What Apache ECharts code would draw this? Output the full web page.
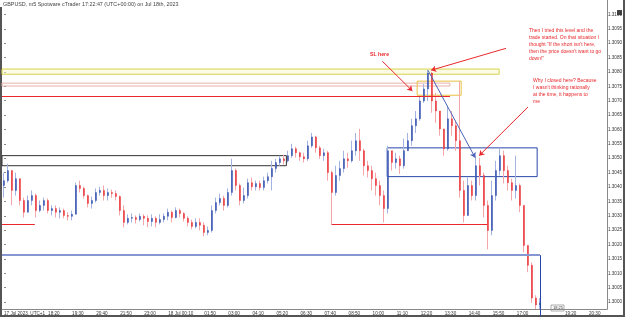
<!DOCTYPE html>
<html>
<head>
<meta charset="utf-8">
<script src="https://cdn.jsdelivr.net/npm/echarts@6/dist/echarts.min.js"></script>
<style>
  html, body { margin: 0; padding: 0; background: #fff; }
  #chart { width: 625px; height: 317px; }
</style>
</head>
<body>
<div id="chart"></div>
<script>
// GBPUSD m5, 17-18 Jul 2023
const closes = [
  1.30422,1.30457,1.30388,1.30429,1.30353,1.30312,1.30353,1.30370,1.30318,1.30336,
  1.30353,1.30318,1.30325,1.30312,1.30318,1.30301,1.30298,1.30305,1.30405,1.30395,
  1.30370,1.30343,1.30353,1.30381,1.30388,1.30370,1.30381,1.30377,1.30367,1.30318,
  1.30277,1.30291,1.30294,1.30287,1.30298,1.30291,1.30280,1.30291,1.30277,1.30287,
  1.30298,1.30312,1.30294,1.30318,1.30308,1.30291,1.30277,1.30263,1.30277,1.30267,
  1.30242,1.30249,1.30318,1.30346,1.30360,1.30336,1.30381,1.30457,1.30405,1.30353,
  1.30370,1.30415,1.30401,1.30412,1.30398,1.30422,1.30436,1.30464,1.30485,1.30498,
  1.30491,1.30509,1.30533,1.30519,1.30505,1.30498,1.30543,1.30574,1.30536,1.30509,
  1.30519,1.30450,1.30381,1.30440,1.30464,1.30498,1.30491,1.30526,1.30561,1.30526,
  1.30474,1.30457,1.30429,1.30405,1.30370,1.30325,1.30526,1.30485,1.30498,1.30474,
  1.30526,1.30561,1.30613,1.30637,1.30699,1.30741,1.30796,1.30699,1.30664,1.30602,
  1.30533,1.30637,1.30613,1.30561,1.30388,1.30301,1.30405,1.30370,1.30474,1.30440,
  1.30336,1.30249,1.30370,1.30457,1.30509,1.30457,1.30415,1.30388,1.30405,1.30336,
  1.30197,1.30128,1.30014,1.29990,1.29997
];
const highs = [
  1.30450,1.30481,1.30450,1.30450,1.30429,1.30363,1.30370,1.30388,1.30377,1.30353,
  1.30363,1.30360,1.30336,1.30336,1.30329,1.30325,1.30312,1.30318,1.30415,1.30422,
  1.30401,1.30374,1.30367,1.30395,1.30401,1.30405,1.30395,1.30391,1.30388,1.30370,
  1.30336,1.30305,1.30308,1.30301,1.30308,1.30305,1.30301,1.30305,1.30298,1.30305,
  1.30308,1.30325,1.30318,1.30329,1.30325,1.30312,1.30298,1.30287,1.30291,1.30291,
  1.30277,1.30263,1.30336,1.30363,1.30377,1.30370,1.30395,1.30498,1.30464,1.30412,
  1.30398,1.30429,1.30433,1.30422,1.30422,1.30436,1.30450,1.30491,1.30498,1.30509,
  1.30512,1.30526,1.30550,1.30540,1.30523,1.30519,1.30561,1.30588,1.30578,1.30543,
  1.30533,1.30526,1.30457,1.30474,1.30491,1.30526,1.30519,1.30561,1.30588,1.30602,
  1.30533,1.30491,1.30474,1.30450,1.30422,1.30388,1.30543,1.30519,1.30519,1.30509,
  1.30568,1.30588,1.30637,1.30664,1.30716,1.30758,1.30806,1.30800,1.30727,1.30647,
  1.30602,1.30682,1.30664,1.30630,1.30768,1.30422,1.30433,1.30422,1.30509,1.30502,
  1.30450,1.30353,1.30422,1.30491,1.30536,1.30526,1.30474,1.30429,1.30509,1.30412,
  1.30336,1.30197,1.30138,1.30024,1.30014
];
const lows = [
  1.30363,1.30415,1.30336,1.30370,1.30336,1.30294,1.30312,1.30336,1.30294,1.30312,
  1.30318,1.30308,1.30301,1.30294,1.30291,1.30291,1.30284,1.30284,1.30305,1.30381,
  1.30360,1.30329,1.30325,1.30346,1.30370,1.30353,1.30353,1.30363,1.30353,1.30301,
  1.30260,1.30270,1.30277,1.30273,1.30280,1.30267,1.30260,1.30263,1.30260,1.30270,
  1.30277,1.30284,1.30277,1.30291,1.30294,1.30280,1.30263,1.30253,1.30256,1.30249,
  1.30228,1.30232,1.30242,1.30308,1.30336,1.30318,1.30329,1.30370,1.30388,1.30336,
  1.30343,1.30360,1.30388,1.30388,1.30388,1.30388,1.30412,1.30388,1.30450,1.30474,
  1.30478,1.30485,1.30502,1.30502,1.30491,1.30485,1.30491,1.30536,1.30519,1.30498,
  1.30491,1.30422,1.30270,1.30370,1.30422,1.30450,1.30467,1.30485,1.30509,1.30491,
  1.30440,1.30433,1.30388,1.30370,1.30336,1.30277,1.30308,1.30457,1.30464,1.30446,
  1.30464,1.30526,1.30543,1.30588,1.30630,1.30692,1.30699,1.30658,1.30623,1.30578,
  1.30509,1.30526,1.30578,1.30526,1.30363,1.30277,1.30336,1.30353,1.30353,1.30405,
  1.30294,1.30183,1.30232,1.30353,1.30440,1.30412,1.30388,1.30353,1.30360,1.30312,
  1.30173,1.30104,1.29997,1.29976,1.29976
];
const firstOpen = 1.30405;
const slotCount = 151; // bars plus empty space on the right

// time axis labels: [slot, text]
const timeTicks = [
  [0, '17 Jul 2023, UTC+1'], [11, '18:20'], [17, '19:30'], [23, '20:40'], [29, '21:50'],
  [35, '23:00'], [41, '18 Jul 00:10'], [50, '01:50'], [56, '03:00'], [62, '04:10'],
  [68, '05:20'], [74, '06:30'], [80, '07:40'], [86, '08:50'], [92, '10:00'],
  [98, '11:10'], [104, '12:20'], [110, '13:30'], [116, '14:40'], [122, '15:50'],
  [128, '17:00'], [140, '19:20'], [146, '20:30']
];

const title = 'GBPUSD, m5 Spotware cTrader 17:22:47 (UTC+00:00) on Jul 18th, 2023';
const noteTop = ['Then I tried this level and the', 'trade started. On that situation I',
  'thought "If the short isn\'t here,', 'then the price doesn\'t want to go', 'down!"'];
const noteClose = ['Why I closed here? Because', 'I wasn\'t thinking rationally',
  'at the time, it happens to', 'me'];

const opens = closes.map((c, i) => (i === 0 ? firstOpen : closes[i - 1]));
const wickData = closes.map((c, i) => [i, opens[i], c,
  Math.min(lows[i], opens[i], c), Math.max(highs[i], opens[i], c)]);
const bodyData = closes.map((c, i) => [i, opens[i], c, Math.min(opens[i], c), Math.max(opens[i], c)]);

const timeCats = new Array(slotCount).fill('');
timeTicks.forEach(([i, t]) => { timeCats[i] = t; });

const RED = '#e8282d';
const BLUE = '#2846a8';
const FONT = 'Liberation Sans';

const arrowEnd = (a, b, color) => [
  { coord: a, symbol: 'none', lineStyle: { color: color, width: 1, type: 'solid' } },
  { coord: b, symbol: 'arrow', symbolSize: 5 }
];
const plain = (a, b, color, width) => [
  { coord: a, symbol: 'none', lineStyle: { color: color, width: width || 1, type: 'solid' } },
  { coord: b, symbol: 'none' }
];

const textLines = (lines, x, y, step, color) => lines.map((t, k) => ({
  type: 'text', left: x, top: y + k * step,
  style: { text: t, fill: color, font: '5px ' + FONT }
}));

const chart = echarts.init(document.getElementById('chart'));
chart.setOption({
  animation: false,
  backgroundColor: '#fff',
  grid: [
    { left: 2, right: 18, top: -1.45, height: 317.9 },
    { left: 2, right: 18, top: 0, height: 309 }
  ],
  xAxis: [
    { type: 'value', gridIndex: 0, min: -0.5, max: slotCount - 0.5, show: false },
    {
      type: 'category', gridIndex: 1, data: timeCats, boundaryGap: true,
      axisLine: { lineStyle: { color: '#888', width: 1 } },
      axisTick: { interval: (i, v) => v !== '', length: 2, lineStyle: { color: '#888' } },
      axisLabel: {
        interval: (i, v) => v !== '', align: 'left', fontSize: 4.6, fontFamily: FONT,
        color: '#333', margin: 2
      }
    }
  ],
  yAxis: [
    {
      type: 'value', gridIndex: 0, position: 'right', min: 1.2995, max: 1.3105, interval: 0.0005,
      axisLine: { show: false }, splitLine: { show: false },
      axisTick: { show: true, length: 2, lineStyle: { color: '#888' } },
      axisLabel: {
        fontSize: 4.6, fontFamily: FONT, color: '#333', margin: 2,
        showMinLabel: false, showMaxLabel: false, formatter: v => v.toFixed(4)
      }
    },
    {
      type: 'value', gridIndex: 1, position: 'right',
      axisLine: { show: true, lineStyle: { color: '#888' } },
      axisLabel: { show: false }, axisTick: { show: false }, splitLine: { show: false }
    }
  ],
  series: [
    {
      type: 'candlestick', xAxisIndex: 0, yAxisIndex: 0, data: wickData,
      encode: { x: 0, y: [1, 2, 3, 4] }, barWidth: 1,
      itemStyle: { color: '#a4b3e2', color0: '#f5a6aa', borderColor: '#a4b3e2', borderColor0: '#f5a6aa', borderWidth: 1 },
      markArea: {
        silent: true,
        data: [
          [{ xAxis: -0.5, yAxis: 1.30810, itemStyle: { color: 'rgba(250,248,205,0.5)', borderColor: '#d8d24a', borderWidth: 1 } },
           { xAxis: 123.8, yAxis: 1.30792 }],
          [{ xAxis: -0.5, yAxis: 1.30761, itemStyle: { color: 'rgba(0,0,0,0)', borderColor: '#e7b0a8', borderWidth: 1 } },
           { xAxis: 111.5, yAxis: 1.30751 }],
          [{ xAxis: 103.3, yAxis: 1.30768, itemStyle: { color: 'rgba(0,0,0,0)', borderColor: '#e8c040', borderWidth: 1 } },
           { xAxis: 114.3, yAxis: 1.30719 }],
          [{ xAxis: -0.5, yAxis: 1.30509, itemStyle: { color: 'rgba(0,0,0,0)', borderColor: '#333', borderWidth: 1 } },
           { xAxis: 70.6, yAxis: 1.30474 }],
          [{ xAxis: 95.8, yAxis: 1.30536, itemStyle: { color: 'rgba(0,0,0,0)', borderColor: BLUE, borderWidth: 1 } },
           { xAxis: 133.3, yAxis: 1.30436 }]
        ]
      }
    },
    {
      type: 'candlestick', xAxisIndex: 0, yAxisIndex: 0, data: bodyData,
      encode: { x: 0, y: [1, 2, 3, 4] }, barWidth: 2,
      itemStyle: { color: BLUE, color0: RED, borderColor: BLUE, borderColor0: RED, borderWidth: 0.4 },
      markLine: {
        silent: true, animation: false, label: { show: false }, symbol: ['none', 'none'],
        lineStyle: { type: 'solid' },
        data: [
          plain([-0.5, 1.30716], [111.5, 1.30716], RED),
          plain([-0.5, 1.30270], [7.7, 1.30270], RED),
          plain([81.9, 1.30270], [120.8, 1.30270], RED),
          plain([-0.5, 1.30163], [134, 1.30163], '#8797d2', 2),
          plain([134, 1.30163], [134, 1.2995], BLUE),
          arrowEnd([106, 1.30806], [117.8, 1.30502], '#4b63b8'),
          arrowEnd([94.6, 1.30837], [102.1, 1.30734], RED),
          arrowEnd([125.5, 1.30882], [106.8, 1.30806], RED),
          arrowEnd([131.0, 1.30678], [118.8, 1.30509], RED)
        ]
      }
    }
  ],
  graphic: [
    { type: 'rect', shape: { x: 0, y: 7, width: 2, height: 310 }, style: { fill: '#555' } },
    { type: 'rect', shape: { x: 0, y: 315, width: 625, height: 2 }, style: { fill: '#555' } },
    { type: 'rect', shape: { x: 623, y: 0, width: 2, height: 317 }, style: { fill: '#555' } },
    { type: 'rect', shape: { x: 617, y: 10, width: 5, height: 5 }, style: { fill: '#444' } },
    { type: 'text', left: 3, top: 2, style: { text: title, fill: '#444', font: '5.4px ' + FONT } },
    { type: 'text', left: 370, top: 52, style: { text: 'SL here', fill: RED, font: 'bold 5.2px ' + FONT } },
    ...textLines(noteTop, 529, 28, 7, RED),
    ...textLines(noteClose, 533, 78, 7, RED),
    {
      type: 'rect', shape: { x: 551, y: 305, width: 13, height: 6 },
      style: { fill: '#fff', stroke: '#777', lineWidth: 0.6 }
    },
    { type: 'text', left: 553, top: 306, style: { text: '18:25', fill: '#333', font: '4px ' + FONT } }
  ]
});
</script>
</body>
</html>
